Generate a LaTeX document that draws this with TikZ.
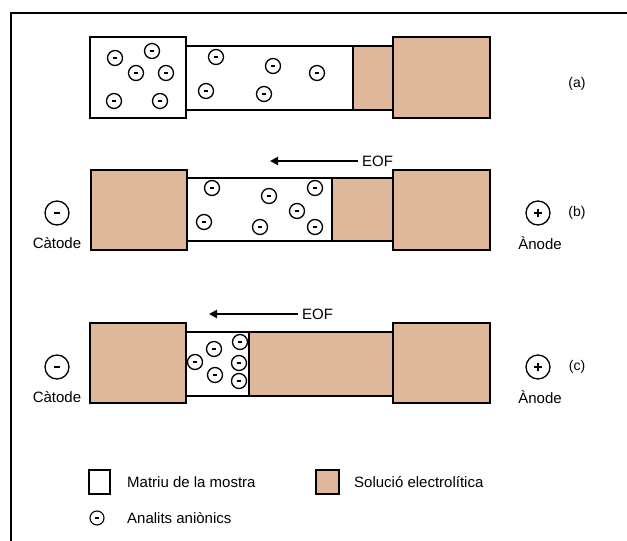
\documentclass[tikz,border=0pt]{standalone}
\usepackage{fontspec}
\setmainfont{Liberation Sans}
\usetikzlibrary{arrows.meta,positioning}
\tikzset{
	mostra/.style={draw=black, line width=1.8pt, fill=white},
	solucio/.style={draw=black, line width=1.8pt, fill=solB},
	analit/.style={circle, draw=black, line width=1.3pt, minimum size=15pt, inner sep=0pt, fill=white},
	electrode/.style={circle, draw=black, line width=1.3pt, minimum size=24pt, inner sep=0pt},
	signe/.style={black, line width=2pt, line cap=butt},
	eof/.style={-{Triangle[length=8pt,width=8pt]}, line width=2pt},
	lab/.style={font=\fontsize{15}{17}\selectfont, inner sep=0pt},
	etiq/.style={font=\fontsize{14}{16}\selectfont, inner sep=0pt},
}
% analit amb signe menys
\newcommand\analit[3]{%
	\node[analit] (#1) at (#2,#3) {};
	\draw[signe] ([xshift=-2.3pt]#1.center) -- ([xshift=2.3pt]#1.center);
}

\begin{document}
\begin{tikzpicture}[x=1pt, y=-1pt, line join=miter]
	
	\definecolor{solB}{RGB}{223,183,155}
	
	\useasboundingbox (0,0) rectangle (627,541);
	
	% --- marc
	\draw[line width=1.6pt] (11,541) -- (11,13) -- (627,13);
	
	% --- (a)
	\draw[mostra] (186,46) rectangle (353,110);
	\draw[solucio] (353,46) rectangle (393,110);
	\draw[mostra] (90,37) rectangle (186,118);
	\draw[solucio] (393,37) rectangle (490,118);
	\foreach \px/\py [count=\i] in {115/58, 152/51, 136/73, 166/73, 114/101, 160/101,
		216/57, 273/66, 317/73, 206/91, 264/94}
	{\analit{aa\i}{\px}{\py}}
	\node[etiq] (laba) at (577,84) {(a)};
	
	% --- (b)
	\draw[mostra] (187,178) rectangle (332,241);
	\draw[solucio] (332,178) rectangle (393,241);
	\draw[solucio] (91,170) rectangle (187,250);
	\draw[solucio] (393,170) rectangle (490,250);
	\foreach \px/\py [count=\i] in {212/188, 269/196, 315/188, 297/211, 204/222, 260/227, 315/227}
	{\analit{ab\i}{\px}{\py}}
	\node[lab, anchor=west] (eofb) at (362,161) {EOF};
	\coordinate (eofbend) at (270,161);
	\draw[eof] (eofb.west) ++(-4,0) -- (eofbend);
	\node[etiq] (labb) at (577,213) {(b)};
	
	% electrodes (b)
	\node[electrode] (catb) at (57,213) {};
	\draw[signe] ([xshift=-3pt]catb.center) -- ([xshift=3pt]catb.center);
	\node[lab] (catbtxt) at (57,243) {Càtode};
	\node[electrode] (anb) at (538,213) {};
	\draw[signe] ([xshift=-4pt]anb.center) -- ([xshift=4pt]anb.center);
	\draw[signe] ([yshift=-4pt]anb.center) -- ([yshift=4pt]anb.center);
	\node[lab] (anbtxt) at (540,243) {Ànode};
	
	% --- (c)
	\draw[mostra] (186,332) rectangle (249,396);
	\draw[solucio] (249,332) rectangle (393,396);
	\draw[solucio] (90,323) rectangle (186,403);
	\draw[solucio] (393,323) rectangle (490,403);
	\foreach \px/\py [count=\i] in {195/362, 214/349, 240/342, 239/363, 239/381, 215/375}
	{\analit{ac\i}{\px}{\py}}
	\node[lab, anchor=west] (eofc) at (302,314) {EOF};
	\coordinate (eofcend) at (209,314);
	\draw[eof] (eofc.west) ++(-4,0) -- (eofcend);
	\node[etiq] (labc) at (577,367) {(c)};
	
	% electrodes (c)
	\node[electrode] (catc) at (57,367) {};
	\draw[signe] ([xshift=-3pt]catc.center) -- ([xshift=3pt]catc.center);
	\node[lab] (catctxt) at (57,397) {Càtode};
	\node[electrode] (anc) at (538,367) {};
	\draw[signe] ([xshift=-4pt]anc.center) -- ([xshift=4pt]anc.center);
	\draw[signe] ([yshift=-4pt]anc.center) -- ([yshift=4pt]anc.center);
	\node[lab] (anctxt) at (540,397) {Ànode};
	
	% --- llegenda
	\draw[mostra, line width=1.2pt] (89,470) rectangle (110,494);
	\node[lab, anchor=west] (llmostra) at (127,482) {Matriu de la mostra};
	\draw[solucio, line width=1.2pt] (316,470) rectangle (339,494);
	\node[lab, anchor=west] (llsol) at (354,482) {Solució electrolítica};
	\node[analit, line width=1.1pt, minimum size=14pt] (llan) at (97,518) {};
	\draw[signe, line width=1.6pt] ([xshift=-2pt]llan.center) -- ([xshift=2pt]llan.center);
	\node[lab, anchor=west] (llantxt) at (127,518) {Analits aniònics};
	
\end{tikzpicture}
\end{document}
